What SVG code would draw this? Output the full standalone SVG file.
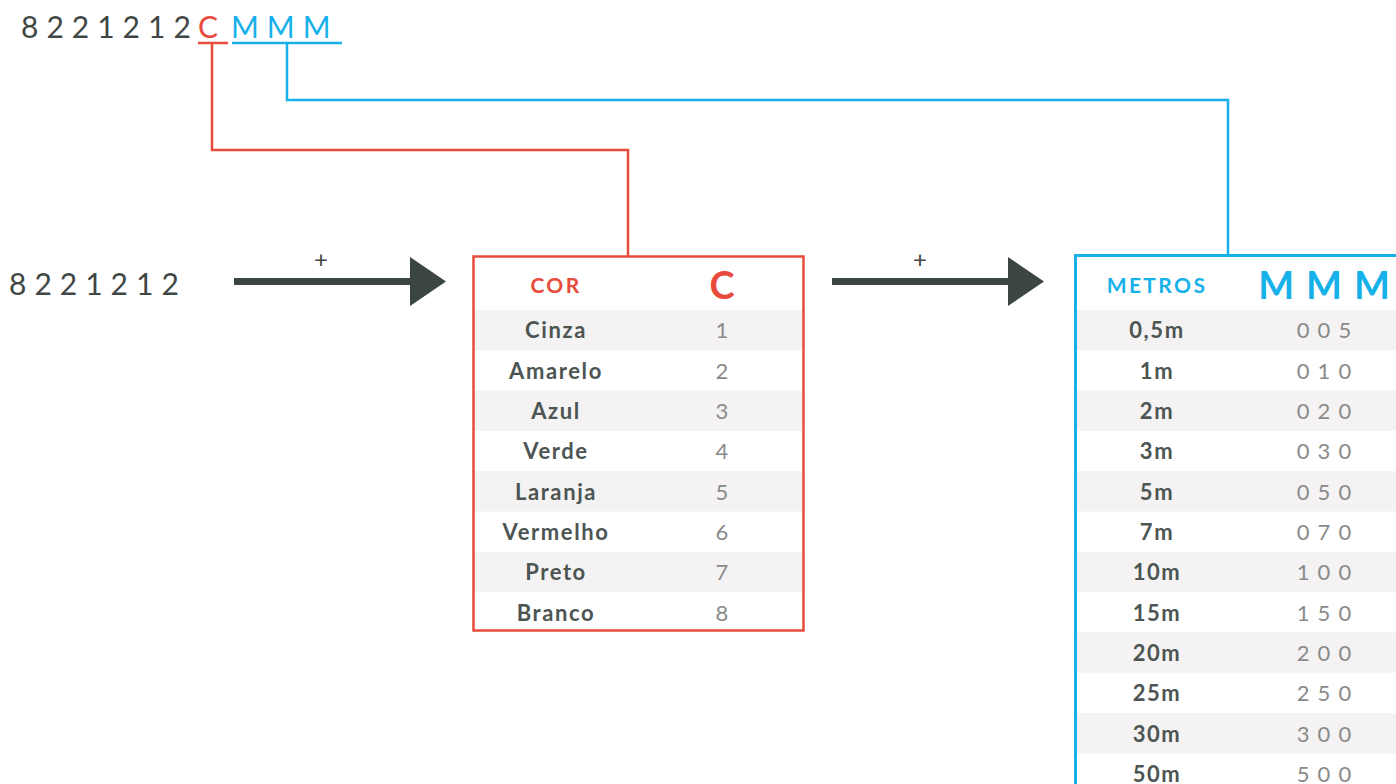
<svg xmlns="http://www.w3.org/2000/svg" width="1396" height="784" viewBox="0 0 1396 784">
<style>
.code{font-family:Lato,"Liberation Sans",sans-serif;font-size:30px;letter-spacing:8px;fill:#3f4745}
.red{fill:#e84b3c}.blue{fill:#17b1ea}
.hdr{font-family:Lato,"Liberation Sans",sans-serif;font-size:21px;font-weight:700;letter-spacing:2.4px;text-anchor:middle}
.big{font-family:Lato,"Liberation Sans",sans-serif;font-size:38px;font-weight:700;text-anchor:middle}
.lbl{font-family:Lato,"Liberation Sans",sans-serif;font-size:22px;font-weight:700;fill:#4d5553;letter-spacing:1.6px;text-anchor:middle}
.val{font-family:Lato,"Liberation Sans",sans-serif;font-size:22px;font-weight:400;fill:#8a8a8a;letter-spacing:8px;text-anchor:middle}
.v1{font-family:Lato,"Liberation Sans",sans-serif;font-size:22px;font-weight:400;fill:#8a8a8a;text-anchor:middle}
.shade{fill:#f4f2f2}
.plus{font-family:Lato,"Liberation Sans",sans-serif;font-size:24px;fill:#3f4745;text-anchor:middle}
</style>
<rect width="1396" height="784" fill="#ffffff"/>
<g id="code-top">
<text class="code" x="21" y="38">8221212</text>
<text class="code red" x="198" y="38" letter-spacing="0">C</text>
<text class="code blue" x="231" y="38" letter-spacing="8">MMM</text>
<line x1="198" y1="43" x2="228" y2="43" stroke="#e84b3c" stroke-width="2.5"/>
<line x1="232" y1="43" x2="342" y2="43" stroke="#17b1ea" stroke-width="2.5"/>
</g>
<g id="code-left">
<text class="code" x="9" y="295">8221212</text>
</g>
<g id="connectors">
<polyline points="212,43 212,150 628,150 628,256" fill="none" stroke="#e84b3c" stroke-width="2.5"/>
<polyline points="287,43 287,100 1228,100 1228,255" fill="none" stroke="#17b1ea" stroke-width="2.5"/>
<line x1="234" y1="281.5" x2="412" y2="281.5" stroke="#3b4542" stroke-width="7"/>
<polygon points="410,257 446,281.5 410,306" fill="#3b4542"/>
<text class="plus" x="321" y="268">+</text>
<line x1="832" y1="281.5" x2="1010" y2="281.5" stroke="#3b4542" stroke-width="7"/>
<polygon points="1008,257 1044,281.5 1008,306" fill="#3b4542"/>
<text class="plus" x="920" y="268">+</text>
</g>
<g id="table-cor">
<rect class="shade" x="474" y="310" width="329" height="40.3"/>
<rect class="shade" x="474" y="390.6" width="329" height="40.3"/>
<rect class="shade" x="474" y="471.2" width="329" height="40.3"/>
<rect class="shade" x="474" y="551.8" width="329" height="40.3"/>
<rect x="473.5" y="256.5" width="330" height="374" fill="none" stroke="#e84b3c" stroke-width="2.5"/>
<text class="hdr red" x="556" y="293">COR</text>
<text class="big red" x="722" y="299">C</text>
<text class="lbl" x="556" y="338">Cinza</text><text class="v1" x="722" y="338">1</text>
<text class="lbl" x="556" y="379">Amarelo</text><text class="v1" x="722" y="379">2</text>
<text class="lbl" x="556" y="419">Azul</text><text class="v1" x="722" y="419">3</text>
<text class="lbl" x="556" y="459">Verde</text><text class="v1" x="722" y="459">4</text>
<text class="lbl" x="556" y="500">Laranja</text><text class="v1" x="722" y="500">5</text>
<text class="lbl" x="556" y="540">Vermelho</text><text class="v1" x="722" y="540">6</text>
<text class="lbl" x="556" y="580">Preto</text><text class="v1" x="722" y="580">7</text>
<text class="lbl" x="556" y="621">Branco</text><text class="v1" x="722" y="621">8</text>
</g>
<g id="table-metros">
<rect class="shade" x="1077" y="310" width="319" height="40.3"/>
<rect class="shade" x="1077" y="390.6" width="319" height="40.3"/>
<rect class="shade" x="1077" y="471.2" width="319" height="40.3"/>
<rect class="shade" x="1077" y="551.8" width="319" height="40.3"/>
<rect class="shade" x="1077" y="632.4" width="319" height="40.3"/>
<rect class="shade" x="1077" y="713" width="319" height="40.3"/>
<rect x="1075.5" y="255.5" width="400" height="600" fill="none" stroke="#17b1ea" stroke-width="3"/>
<text class="hdr blue" x="1157" y="293">METROS</text>
<text class="big blue" x="1330" y="299" letter-spacing="12">MMM</text>
<text class="lbl" x="1157" y="338">0,5m</text><text class="val" x="1328" y="338">005</text>
<text class="lbl" x="1157" y="379">1m</text><text class="val" x="1328" y="379">010</text>
<text class="lbl" x="1157" y="419">2m</text><text class="val" x="1328" y="419">020</text>
<text class="lbl" x="1157" y="459">3m</text><text class="val" x="1328" y="459">030</text>
<text class="lbl" x="1157" y="500">5m</text><text class="val" x="1328" y="500">050</text>
<text class="lbl" x="1157" y="540">7m</text><text class="val" x="1328" y="540">070</text>
<text class="lbl" x="1157" y="580">10m</text><text class="val" x="1328" y="580">100</text>
<text class="lbl" x="1157" y="621">15m</text><text class="val" x="1328" y="621">150</text>
<text class="lbl" x="1157" y="661">20m</text><text class="val" x="1328" y="661">200</text>
<text class="lbl" x="1157" y="701">25m</text><text class="val" x="1328" y="701">250</text>
<text class="lbl" x="1157" y="742">30m</text><text class="val" x="1328" y="742">300</text>
<text class="lbl" x="1157" y="782">50m</text><text class="val" x="1328" y="782">500</text>
</g>
</svg>
